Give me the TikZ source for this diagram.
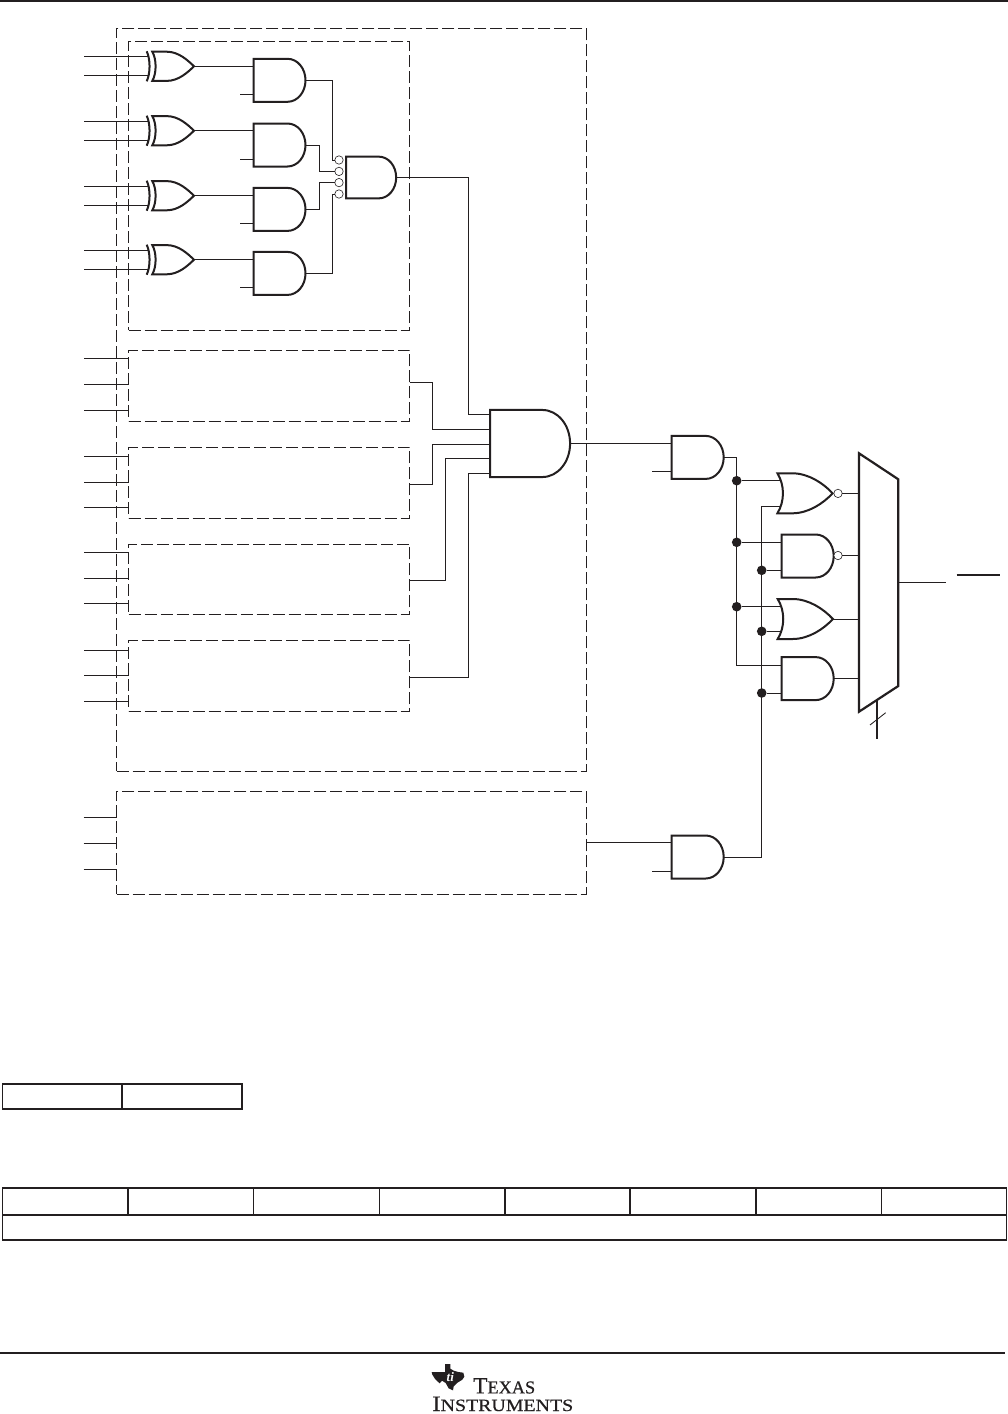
\documentclass[tikz,border=0pt]{standalone}
\usepackage{fontspec}
\usepackage{graphicx}
\setmainfont{Liberation Serif}
\newfontfamily\logofont[FakeBold=0.6]{Liberation Serif}
\definecolor{ink}{HTML}{231F20}
\tikzset{
  wire/.style={draw=ink,line width=0.85pt},
  gateline/.style={draw=ink,line width=2pt,line join=miter},
  heavy/.style={draw=ink,line width=2pt},
  tbl/.style={draw=ink,line width=1.6pt},
  tblthin/.style={draw=ink,line width=0.9pt},
  dbox/.style={draw=ink,line width=0.85pt,dash pattern=on 12pt off 4pt,anchor=north west,inner sep=0pt,outer sep=0pt},
  bub/.style={circle,draw=ink,line width=0.6pt,fill=white,minimum size=8.4pt,inner sep=0pt,outer sep=0pt},
  dot/.style={circle,fill=ink,minimum size=9.6pt,inner sep=0pt,outer sep=0pt},
  andg/.pic={
    \path[gateline] (0,-21.5) -- (34,-21.5) .. controls (44,-21.5) and (52,-11.9) .. (52,0)
       .. controls (52,11.9) and (44,21.5) .. (34,21.5) -- (0,21.5) -- cycle;
    \coordinate (-left) at (0,0);
    \coordinate (-in1) at (0,-14.3);
    \coordinate (-in2) at (0,14);
    \coordinate (-out) at (52,0);
  },
  xorg/.pic={
    \path[gateline] (0,-15) .. controls (3.8,-7) and (3.8,7) .. (0,15);
    \path[gateline] (5.6,-14.6) -- (20,-14.6) .. controls (32,-14.6) and (41,-6) .. (47.3,0)
       .. controls (41,6) and (32,14.6) .. (20,14.6) -- (5.6,14.6)
       .. controls (10,7) and (10,-7) .. (5.6,-14.6) -- cycle;
    \coordinate (-in1) at (2.6,-9.5);
    \coordinate (-in2) at (2.6,9.5);
    \coordinate (-out) at (47.3,0);
  },
  org/.pic={
    \path[gateline] (0,-20) -- (15,-20) .. controls (31,-20) and (46,-10) .. (55.2,0)
       .. controls (46,10) and (31,20) .. (15,20) -- (0,20)
       .. controls (7.4,8) and (7.4,-8) .. (0,-20) -- cycle;
    \coordinate (-left) at (4,0);
    \coordinate (-out) at (55.2,0);
  },
}
\begin{document}
\begin{tikzpicture}[x=1pt,y=-1pt]
\useasboundingbox (0,0) rectangle (1008,1414);
\fill[white] (0,0) rectangle (1008,1414);

% page rules
\coordinate (tl) at (0,1.1); \coordinate (tr) at (1008,1.1);
\draw[ink,line width=2.3pt] (tl) -- (tr);
\coordinate (fl) at (0,1353); \coordinate (fr) at (1005,1353);
\draw[heavy,line width=1.6pt] (fl) -- (fr);

% dashed blocks
\node[dbox,minimum width=469.3pt,minimum height=743pt] (outer) at (116.7,28) {};
\node[dbox,minimum width=281pt,minimum height=288.5pt] (b0) at (128.6,41.6) {};
\node[dbox,minimum width=281pt,minimum height=71pt] (b1) at (128.6,350.3) {};
\node[dbox,minimum width=281pt,minimum height=71pt] (b2) at (128.6,447.3) {};
\node[dbox,minimum width=281pt,minimum height=70pt] (b3) at (128.6,544.3) {};
\node[dbox,minimum width=281pt,minimum height=71pt] (b4) at (128.6,640.3) {};
\node[dbox,minimum width=469.3pt,minimum height=103pt] (lb) at (116.7,791) {};

% XOR / AND first block
\pic (x1) at (146.7,66.3) {xorg};
\pic (x2) at (146.7,130.7) {xorg};
\pic (x3) at (146.7,195.7) {xorg};
\pic (x4) at (146.7,259.7) {xorg};
\pic (g1) at (253.5,80.3) {andg};
\pic (g2) at (253.5,145) {andg};
\pic (g3) at (253.5,209.4) {andg};
\pic (g4) at (253.5,273.4) {andg};
\pic[xscale=0.965,yscale=0.97] (c) at (346,177.5) {andg};
\pic[xscale=1.54,yscale=1.56] (big) at (490,443.5) {andg};
\pic (u) at (671.7,457.4) {andg};
\pic (l) at (671.7,857) {andg};
\pic (o1) at (777.4,493.3) {org};
\pic (n1) at (781.7,556) {andg};
\pic (o2) at (777.7,619) {org};
\pic (a1) at (781.7,678.6) {andg};

% input stubs for XORs
\foreach \n/\a/\b in {x1/56.8/75.8,x2/121.2/140.2,x3/186.2/205.2,x4/250.2/269.2}{
  \coordinate (\n-sa) at (84,\a);
  \coordinate (\n-sb) at (84,\b);
  \draw[wire] (\n-sa) -- (\n-sa -| \n-in1);
  \draw[wire] (\n-sb) -- (\n-sb -| \n-in2);
}
\foreach \n/\m in {x1/g1,x2/g2,x3/g3,x4/g4}{
  \draw[wire] (\n-out) -- (\n-out -| \m-left);
  \draw[wire] (\m-in2) -- ++(-13.5,0);
}

% bubbles of central gate
\node[bub] (p1) at (339,160) {};
\node[bub] (p2) at (339,171.4) {};
\node[bub] (p3) at (339,182.6) {};
\node[bub] (p4) at (339,194) {};
\coordinate (j1) at (332.3,160);
\coordinate (j2) at (319.7,171.4);
\coordinate (j3) at (319.7,182.6);
\coordinate (j4) at (332.3,194);
\draw[wire] (g1-out) -| (j1) -- (p1.west);
\draw[wire] (g2-out) -| (j2) -- (p2.west);
\draw[wire] (g3-out) -| (j3) -- (p3.west);
\draw[wire] (g4-out) -| (j4) -- (p4.west);

% inputs of the four lower blocks
\foreach \y [count=\i] in {358,384,410}{\coordinate (sa\i) at (84,\y); \draw[wire] (sa\i) -- (sa\i -| b1.west);}
\foreach \y [count=\i] in {456,482,507}{\coordinate (sb\i) at (84,\y); \draw[wire] (sb\i) -- (sb\i -| b2.west);}
\foreach \y [count=\i] in {552,578,603}{\coordinate (sc\i) at (84,\y); \draw[wire] (sc\i) -- (sc\i -| b3.west);}
\foreach \y [count=\i] in {650,675,701}{\coordinate (sd\i) at (84,\y); \draw[wire] (sd\i) -- (sd\i -| b4.west);}
\foreach \y [count=\i] in {817,843,869.3}{\coordinate (se\i) at (83.5,\y); \draw[wire] (se\i) -- (se\i -| lb.west);}

% into the big AND
\coordinate (bi1) at (490,414.3);
\coordinate (bi2) at (490,429.3);
\coordinate (bi3) at (490,444.3);
\coordinate (bi4) at (490,458.7);
\coordinate (bi5) at (490,473.3);
\coordinate (ob1) at (409.6,382);
\coordinate (ob2) at (409.6,484);
\coordinate (ob3) at (409.6,580.3);
\coordinate (ob4) at (409.6,677);
\coordinate (k1) at (468.7,414.3);
\coordinate (k2) at (432.7,429.3);
\coordinate (k3) at (432.7,444.3);
\coordinate (k4) at (445,458.7);
\coordinate (k5) at (468.7,473.3);
\draw[wire] (c-out) -| (k1) -- (bi1);
\draw[wire] (ob1) -| (k2) -- (bi2);
\draw[wire] (ob2) -| (k3) -- (bi3);
\draw[wire] (ob3) -| (k4) -- (bi4);
\draw[wire] (ob4) -| (k5) -- (bi5);

% to the right-hand gates
\draw[wire] (big-out) -- (big-out -| u-left);
\draw[wire] (u-in2) -- ++(-20,0);
\coordinate (lbo) at (586,842.7);
\draw[wire] (lbo) -- (l-in1);
\draw[wire] (l-in2) -- ++(-20,0);

\node[dot] (d1) at (736.7,480.7) {};
\node[dot] (d2) at (736.7,542.3) {};
\node[dot] (d3) at (736.7,606.7) {};
\node[dot] (e1) at (761.7,570.3) {};
\node[dot] (e2) at (761.7,631.3) {};
\node[dot] (e3) at (761.7,693) {};
\coordinate (v1) at (736.7,665.3);
\coordinate (v2) at (761.7,506);
\draw[wire] (u-out) -| (v1) -- (v1 -| a1-left);
\draw[wire] (l-out) -| (v2) -- (v2 -| o1-left);
\draw[wire] (d1) -- (d1 -| o1-left);
\draw[wire] (d2) -- (d2 -| n1-left);
\draw[wire] (d3) -- (d3 -| o2-left);
\draw[wire] (e1) -- (e1 -| n1-left);
\draw[wire] (e2) -- (e2 -| o2-left);
\draw[wire] (e3) -- (e3 -| a1-left);

% multiplexer
\coordinate (m1) at (859,453.3);
\coordinate (m2) at (898.3,479.3);
\coordinate (m3) at (898.3,686);
\coordinate (m4) at (859,711.7);
\path[gateline,line width=2.2pt] (m1) -- (m2) -- (m3) -- (m4) -- cycle;
\node[bub] (q1) at (838,493.4) {};
\node[bub] (q2) at (838,555.5) {};
\draw[wire] (q1) -- (q1 -| m1);
\draw[wire] (q2) -- (q2 -| m1);
\draw[wire] (o2-out) -- (o2-out -| m1);
\draw[wire] (a1-out) -- (a1-out -| m1);
\coordinate (mo) at (898.3,582.3);
\coordinate (moe) at (945.7,582.3);
\draw[wire] (mo) -- (moe);
\coordinate (bar1) at (956.7,575);
\coordinate (bar2) at (1000,575);
\draw[heavy,line width=1.6pt] (bar1) -- (bar2);
\coordinate (sel1) at (877.3,699.5);
\coordinate (sel2) at (877.3,739.3);
\draw[heavy,line width=2.2pt] (sel1) -- (sel2);
\coordinate (sl1) at (870,725);
\coordinate (sl2) at (885.7,712.7);
\draw[wire] (sl1) -- (sl2);

% tables
\draw[tbl] (2.3,1084) rectangle (242,1109);
\draw[tbl] (122,1084) -- (122,1109);
\draw[tbl] (2.3,1187.7) rectangle (1006.6,1240);
\draw[tbl] (2.3,1215) -- (1006.6,1215);
\foreach \x in {128,379.3,505,630,756}{\draw[tbl] (\x,1187.7) -- (\x,1215);}
\foreach \x in {253.3,881.7}{\draw[tblthin] (\x,1187.7) -- (\x,1215);}

% logo
\begin{scope}[shift={(425,1358)},x=0.3333pt,y=-0.3333pt]
\fill[ink] (60,18) -- (76,18) -- (76,32) -- (86,38) -- (100,42) -- (115,44) -- (118,56)
  -- (112,65) -- (96,75) -- (86,85) -- (84,97) -- (71,91) -- (62,75) -- (51,68) -- (44,76)
  -- (31,64) -- (22,50) -- (20,42) -- (43,42) -- (60,42) -- cycle;
\node[text=white,font=\bfseries\itshape\fontsize{13}{13}\selectfont,inner sep=0pt] (logoti) at (76,58) {ti};
\end{scope}
\node[anchor=base west,inner sep=0pt,text=ink] (logo1) at (473,1393.4)
  {\resizebox{62pt}{15.2pt}{\logofont\fontsize{23}{23}\selectfont T\fontsize{18}{18}\selectfont EXAS}};
\node[anchor=base west,inner sep=0pt,text=ink] (logo2) at (432,1411)
  {\resizebox{141pt}{14.4pt}{\logofont\fontsize{23}{23}\selectfont I\fontsize{18}{18}\selectfont NSTRUMENTS}};
\end{tikzpicture}
\end{document}
